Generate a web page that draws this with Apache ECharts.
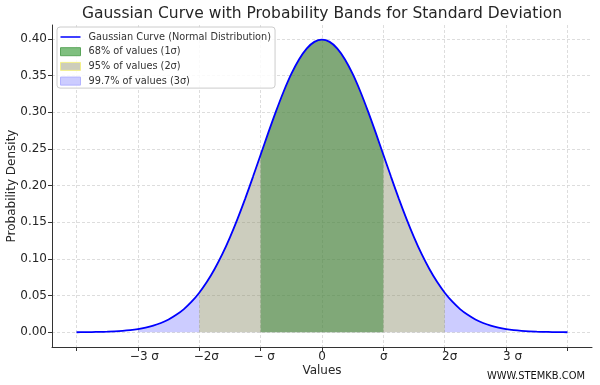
<!DOCTYPE html>
<html><head><meta charset="utf-8">
<script src="https://cdn.jsdelivr.net/npm/echarts@6/dist/echarts.min.js"></script>
<style>html,body{margin:0;padding:0;background:#fff}#c{width:600px;height:385px}</style>
</head><body><div id="c"></div>
<script>
// Data
const xValues = [-4,-3.875,-3.75,-3.625,-3.5,-3.375,-3.25,-3.125,-3,-2.875,-2.75,-2.625,-2.5,-2.375,-2.25,-2.125,-2,-1.875,-1.75,-1.625,-1.5,-1.375,-1.25,-1.125,-1,-0.875,-0.75,-0.625,-0.5,-0.375,-0.25,-0.125,0,0.125,0.25,0.375,0.5,0.625,0.75,0.875,1,1.125,1.25,1.375,1.5,1.625,1.75,1.875,2,2.125,2.25,2.375,2.5,2.625,2.75,2.875,3,3.125,3.25,3.375,3.5,3.625,3.75,3.875,4];
const density = [0.0001,0.0002,0.0004,0.0006,0.0009,0.0013,0.0020,0.0030,0.0044,0.0064,0.0091,0.0127,0.0175,0.0238,0.0317,0.0417,0.0540,0.0688,0.0863,0.1065,0.1295,0.1550,0.1826,0.2119,0.2420,0.2721,0.3011,0.3282,0.3521,0.3719,0.3867,0.3958,0.3989,0.3958,0.3867,0.3719,0.3521,0.3282,0.3011,0.2721,0.2420,0.2119,0.1826,0.1550,0.1295,0.1065,0.0863,0.0688,0.0540,0.0417,0.0317,0.0238,0.0175,0.0127,0.0091,0.0064,0.0044,0.0030,0.0020,0.0013,0.0009,0.0006,0.0004,0.0002,0.0001];
const xTickValues = [-4,-3,-2,-1,0,1,2,3,4];
const xLabelValues = [-3,-2,-1,0,1,2,3];
const xTickLabels = ['\u22123 \u03c3','\u22122\u03c3','\u2212 \u03c3','0','\u03c3','2\u03c3','3 \u03c3'];
const yTickValues = [0,0.05,0.10,0.15,0.20,0.25,0.30,0.35,0.40];
const seriesNames = ['Gaussian Curve (Normal Distribution)','68% of values (1\u03c3)','95% of values (2\u03c3)','99.7% of values (3\u03c3)'];
const bandWidths = [1,2,3];

const pts = xValues.map((x,i)=>[x,density[i]]);
const band = k => pts.filter(p => p[0] >= -k - 1e-9 && p[0] <= k + 1e-9);

const FONT = 'DejaVu Sans';
// layout: left padding (px) of each x tick label, mimicking the reference's label placement
const labelPadLeft = [13,14,7,0,1,10,13];
const rich = {};
labelPadLeft.forEach((p,i)=>{ rich['s'+i] = {fontFamily:FONT, fontSize:12, color:'#262626', padding:[0,0,0,p]}; });

const chart = echarts.init(document.getElementById('c'), null, {renderer:'canvas'});
const grid = {type:[3,2], color:'#d4d4d4', width:0.8};
const lineIcon = 'path://M0,0h0.05v0.05h-0.05z M0,3.2H20V4.8H0Z M19.95,7.95h0.05v0.05h-0.05z';
chart.setOption({
  animation:false,
  backgroundColor:'#fff',
  textStyle:{fontFamily:FONT},
  graphic:[
    {type:'text', x:322, y:14, style:{text:'Gaussian Curve with Probability Bands for Standard Deviation', fontFamily:FONT, fontSize:15.5, fill:'#262626', align:'center', verticalAlign:'middle'}},
    {type:'text', x:536, y:376, style:{text:'WWW.STEMKB.COM', fontFamily:'DejaVu Sans Condensed', fontSize:11, fill:'#111', align:'center', verticalAlign:'middle'}}
  ],
  grid:{left:52, top:25, width:540, height:322, containLabel:false, outerBoundsMode:'none'},
  legend:{
    orient:'vertical', left:57, top:27, padding:[5,4,2,3], itemGap:4.7, itemWidth:20, itemHeight:8,
    backgroundColor:'rgba(255,255,255,0.85)', borderColor:'#cccccc', borderWidth:1, borderRadius:3,
    textStyle:{fontFamily:FONT, fontSize:9.75, color:'#333', padding:[0,0,0,3]},
    data:[
      {name:seriesNames[0], icon:lineIcon, itemStyle:{color:'#0000ff', borderWidth:0}},
      {name:seriesNames[1], icon:'rect', itemStyle:{color:'#7fbf7f', borderColor:'#5aa55a', borderWidth:1}},
      {name:seriesNames[2], icon:'rect', itemStyle:{color:'#cdcdbb', borderColor:'#f3f08a', borderWidth:1}},
      {name:seriesNames[3], icon:'rect', itemStyle:{color:'#ccccff', borderColor:'#b3b3ff', borderWidth:1}}
    ]
  },
  xAxis:{
    type:'value', min:-4.4, max:4.4,
    name:'Values', nameLocation:'middle', nameGap:18, nameMoveOverlap:false, nameTextStyle:{fontFamily:FONT, fontSize:12, color:'#262626'},
    axisLine:{show:true, onZero:false, lineStyle:{color:'#333', width:1}},
    axisTick:{show:true, length:4, customValues:xTickValues, lineStyle:{color:'#333'}},
    axisLabel:{customValues:xLabelValues, fontFamily:FONT, fontSize:12, color:'#262626', margin:4, rich:rich,
      formatter:v=>{const i=xLabelValues.indexOf(Math.round(v)); return i>=0?('{s'+i+'|'+xTickLabels[i]+'}'):'';}},
    splitLine:{show:true, lineStyle:grid}
  },
  yAxis:{
    type:'value', min:-0.02, max:0.4188,
    name:'Probability Density', nameLocation:'middle', nameGap:34, nameMoveOverlap:false, nameTextStyle:{fontFamily:FONT, fontSize:12, color:'#262626'},
    axisLine:{show:true, onZero:false, lineStyle:{color:'#333', width:1}},
    axisTick:{show:true, length:4, customValues:yTickValues, lineStyle:{color:'#333'}},
    axisLabel:{customValues:yTickValues, fontFamily:FONT, fontSize:12, color:'#262626', margin:5, formatter:v=>v.toFixed(2)},
    splitLine:{show:true, lineStyle:grid}
  },
  series:[
    {name:seriesNames[3], type:'line', data:band(bandWidths[2]), smooth:0.3, symbol:'none', lineStyle:{width:0, opacity:0}, areaStyle:{color:'rgba(0,0,255,0.2)', opacity:1}, z:1},
    {name:seriesNames[2], type:'line', data:band(bandWidths[1]), smooth:0.3, symbol:'none', lineStyle:{width:0, opacity:0}, areaStyle:{color:'rgba(206,208,40,0.3)', opacity:1}, z:2},
    {name:seriesNames[1], type:'line', data:band(bandWidths[0]), smooth:0.3, symbol:'none', lineStyle:{width:0, opacity:0}, areaStyle:{color:'rgba(51,131,50,0.5)', opacity:1}, z:3},
    {name:seriesNames[0], type:'line', data:pts, smooth:0.3, symbol:'none', itemStyle:{color:'#0000ff'}, lineStyle:{color:'#0000ff', width:1.8}, z:4}
  ]
});
</script></body></html>
